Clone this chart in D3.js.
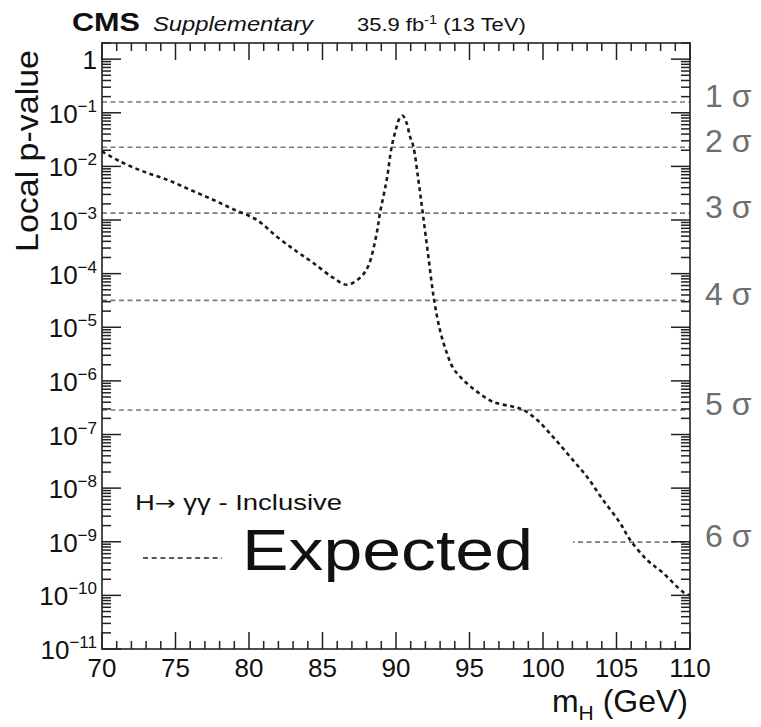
<!DOCTYPE html>
<html>
<head>
<meta charset="utf-8">
<script src="https://cdn.jsdelivr.net/npm/d3@7"></script>
<style>
  html, body { margin: 0; padding: 0; background: #fff; }
  svg { display: block; font-family: "Liberation Sans", Arial, Helvetica, sans-serif; }
</style>
</head>
<body>
<svg id="chart" width="761" height="727"></svg>
<script>
// ---------------- data ----------------
const massValues = [70, 71.22, 72.79, 74.42, 75.99, 77.55, 78.91, 80.54, 81.90, 83.27, 84.35, 85.71, 86.67, 87.55, 88.10, 88.69, 88.91, 89.37, 89.71, 90.05, 90.22, 90.46, 90.72, 90.95, 91.18, 91.52, 91.82, 92.20, 92.59, 92.99, 93.45, 93.88, 94.56, 95.51, 96.60, 97.96, 98.64, 99.59, 100.68, 101.84, 102.99, 104.08, 105.24, 105.92, 107.07, 108.16, 109.52, 110];
const expectedPValues = [0.019, 0.0124, 0.00807, 0.00565, 0.00367, 0.00239, 0.00160, 0.00100, 4.88e-4, 2.56e-4, 1.60e-4, 8.4e-5, 6.2e-5, 8.4e-5, 1.36e-4, 5.7e-4, 1.35e-3, 5.65e-3, 0.0236, 0.0557, 0.0766, 0.0883, 0.0645, 0.0363, 0.0236, 0.00565, 0.00135, 2.09e-4, 3.26e-5, 8.9e-6, 3.34e-6, 1.75e-6, 1.05e-6, 6.3e-7, 4.07e-7, 3.29e-7, 2.89e-7, 1.88e-7, 9.06e-8, 3.84e-8, 1.63e-8, 6.05e-9, 2.25e-9, 1.09e-9, 4.6e-10, 2.63e-10, 1.16e-10, 1.0e-10];
const sigmaPValues = [0.158655, 0.0227501, 0.0013499, 3.16712e-5, 2.86652e-7, 9.86588e-10];
const sigmaLabels = ["1 σ", "2 σ", "3 σ", "4 σ", "5 σ", "6 σ"];
const xTickValues = [70, 75, 80, 85, 90, 95, 100, 105, 110];
const xMinorTickValues = [71, 72, 73, 74, 76, 77, 78, 79, 81, 82, 83, 84, 86, 87, 88, 89, 91, 92, 93, 94, 96, 97, 98, 99, 101, 102, 103, 104, 106, 107, 108, 109];
const yDecadeExponents = [0, -1, -2, -3, -4, -5, -6, -7, -8, -9, -10, -11];
const yMinorMultipliers = [2, 3, 4, 5, 6, 7, 8, 9];
const xDomain = [70, 110];
const yDomain = [1e-11, 2];

// ---------------- layout ----------------
const L = 102, R = 690, T = 43, B = 649;
const svg = d3.select("#chart");
const x = d3.scaleLinear().domain(xDomain).range([L, R]);
const y = d3.scaleLog().domain(yDomain).range([B, T]);

const yMajorValues = yDecadeExponents.map(e => Math.pow(10, e));
const yMinorValues = [];
yDecadeExponents.forEach(e => yMinorMultipliers.forEach(m => {
  const v = m * Math.pow(10, e);
  if (v <= yDomain[1] * 1.0001) yMinorValues.push(v);
}));

// sigma lines
svg.append("g").selectAll("line").data(sigmaPValues).join("line")
  .attr("x1", L).attr("x2", R)
  .attr("y1", d => y(d)).attr("y2", d => y(d))
  .attr("stroke", "#7a7a7a").attr("stroke-width", 1.7)
  .attr("stroke-dasharray", "5,3.5");

// expected curve
const curveGen = d3.line()
  .x((d, i) => x(massValues[i]))
  .y(d => y(d))
  .curve(d3.curveCatmullRom.alpha(0.5));
svg.append("path")
  .datum(expectedPValues)
  .attr("d", curveGen)
  .attr("fill", "none")
  .attr("stroke", "#1a1a1a")
  .attr("stroke-width", 2.6)
  .attr("stroke-dasharray", "4,3.5");

// legend box (white, hides lines beneath)
svg.append("rect")
  .attr("x", L + 1).attr("y", 478).attr("width", 573 - L - 1).attr("height", 120)
  .attr("fill", "#fff");

const leg = svg.append("text")
  .attr("x", 135).attr("y", 510)
  .attr("font-size", 22).attr("fill", "#111")
  .attr("textLength", 207).attr("lengthAdjust", "spacingAndGlyphs");
leg.append("tspan").text("H");
leg.append("tspan").attr("font-family", "DejaVu Sans").attr("font-size", 20).text("→");
leg.append("tspan").text(" γγ - Inclusive");

svg.append("line")
  .attr("x1", 143).attr("x2", 222).attr("y1", 558).attr("y2", 558)
  .attr("stroke", "#222").attr("stroke-width", 1.6)
  .attr("stroke-dasharray", "5,3.7");

svg.append("text")
  .attr("x", 242).attr("y", 570)
  .attr("font-size", 58).attr("fill", "#111")
  .attr("textLength", 291).attr("lengthAdjust", "spacingAndGlyphs")
  .text("Expected");

// sigma labels
svg.append("g").selectAll("text").data(sigmaPValues).join("text")
  .attr("x", 705).attr("y", d => y(d) + 5)
  .attr("font-size", 32).attr("fill", "#6e6e6e")
  .text((d, i) => sigmaLabels[i]);

// ---------------- ticks as thin filled rects ----------------
const tw = 1.5;
const tickG = svg.append("g").attr("fill", "#222");
const xTicksAll = xTickValues.map(v => ({ v, len: 17 })).concat(xMinorTickValues.map(v => ({ v, len: 8 })));
const yTicksAll = yMajorValues.map(v => ({ v, len: 19 })).concat(yMinorValues.map(v => ({ v, len: 9 })));
// bottom
tickG.selectAll("rect.xb").data(xTicksAll).join("rect").attr("class", "xb")
  .attr("x", d => x(d.v) - tw / 2).attr("y", d => B - d.len)
  .attr("width", tw).attr("height", d => d.len);
// top
tickG.selectAll("rect.xt").data(xTicksAll).join("rect").attr("class", "xt")
  .attr("x", d => x(d.v) - tw / 2).attr("y", T)
  .attr("width", tw).attr("height", d => d.len);
// left
tickG.selectAll("rect.yl").data(yTicksAll).join("rect").attr("class", "yl")
  .attr("x", L).attr("y", d => y(d.v) - tw / 2)
  .attr("width", d => d.len).attr("height", tw);
// right
tickG.selectAll("rect.yr").data(yTicksAll).join("rect").attr("class", "yr")
  .attr("x", d => R - d.len).attr("y", d => y(d.v) - tw / 2)
  .attr("width", d => d.len).attr("height", tw);

// frame
svg.append("rect")
  .attr("x", L).attr("y", T).attr("width", R - L).attr("height", B - T)
  .attr("fill", "none").attr("stroke", "#222").attr("stroke-width", 1.6);

// x tick labels
svg.append("g").selectAll("text").data(xTickValues).join("text")
  .attr("x", d => x(d)).attr("y", 677)
  .attr("text-anchor", "middle").attr("font-size", 26).attr("fill", "#111")
  .text(d => d);

// y tick labels
const yl = svg.append("g").selectAll("text").data(yDecadeExponents).join("text")
  .attr("x", 97).attr("y", d => y(Math.pow(10, d)) + 10)
  .attr("text-anchor", "end").attr("font-size", 26).attr("fill", "#111");
yl.each(function(d) {
  const t = d3.select(this);
  if (d === 0) { t.text("1"); return; }
  t.append("tspan").text("10");
  t.append("tspan").attr("font-size", 17).attr("dy", -11).text("−" + Math.abs(d));
});

// axis titles
const xt = svg.append("text")
  .attr("x", 688).attr("y", 712).attr("text-anchor", "end")
  .attr("font-size", 32).attr("fill", "#111");
xt.append("tspan").text("m");
xt.append("tspan").attr("font-size", 21).attr("dy", 8).text("H");
xt.append("tspan").attr("dy", -8).text(" (GeV)");

svg.append("text")
  .attr("transform", "translate(38,50) rotate(-90)")
  .attr("text-anchor", "end")
  .attr("font-size", 32).attr("fill", "#111")
  .attr("textLength", 202).attr("lengthAdjust", "spacingAndGlyphs")
  .text("Local p-value");

// header
svg.append("text")
  .attr("x", 72).attr("y", 31)
  .attr("font-size", 25).attr("font-weight", "bold").attr("fill", "#111")
  .attr("textLength", 68).attr("lengthAdjust", "spacingAndGlyphs")
  .text("CMS");
svg.append("text")
  .attr("x", 153).attr("y", 31)
  .attr("font-size", 20).attr("font-style", "italic").attr("fill", "#111")
  .attr("textLength", 160).attr("lengthAdjust", "spacingAndGlyphs")
  .text("Supplementary");
const lumi = svg.append("text")
  .attr("transform", "translate(357,31) scale(1.22,1)")
  .attr("font-size", 18).attr("fill", "#111");
lumi.append("tspan").text("35.9 fb");
lumi.append("tspan").attr("font-size", 12).attr("dy", -7).text("-1");
lumi.append("tspan").attr("dy", 7).text(" (13 TeV)");
</script>
</body>
</html>
